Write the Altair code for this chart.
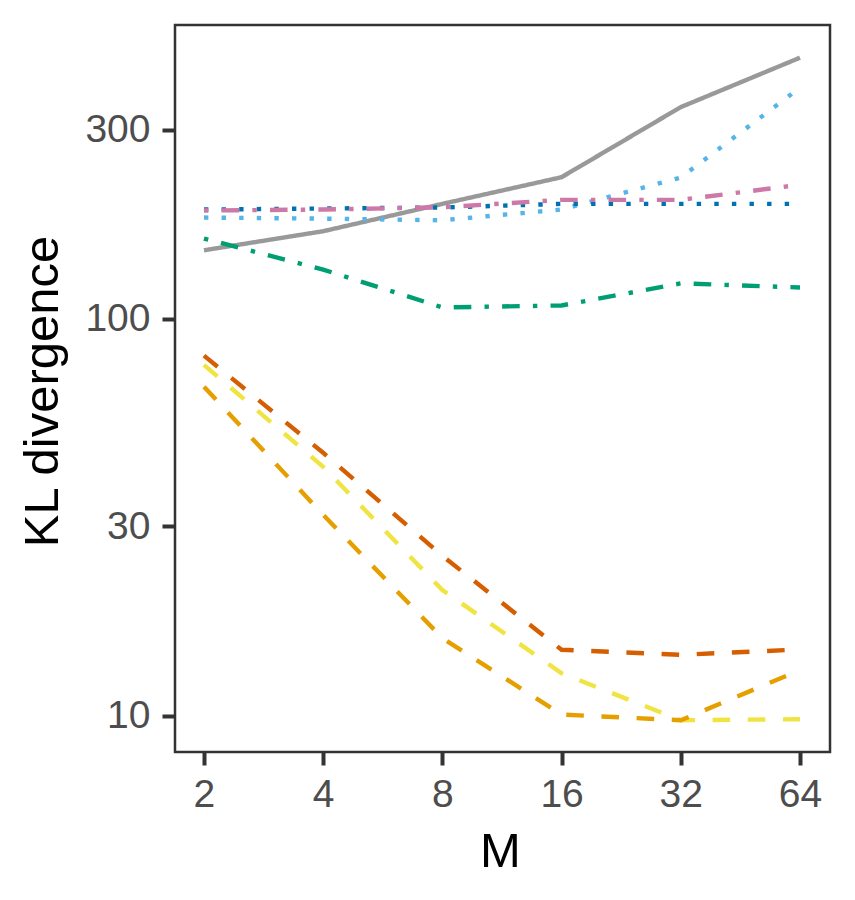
import altair as alt
import pandas as pd

M = [2, 4, 8, 16, 32, 64]

series_names = ["gray", "skyblue", "blue", "pink", "green", "vermillion", "yellow", "orange"]
series_colors = ["#999999", "#56B4E9", "#0072B2", "#CC79A7", "#009E73", "#D55E00", "#F0E442", "#E69F00"]
series_dashes = [[1, 0], [4.4, 13.2], [4.4, 13.2], [4.4, 13.2, 17.6, 13.2], [4.4, 13.2, 17.6, 13.2],
                 [17.6, 17.6], [17.6, 17.6], [17.6, 17.6]]

kl_gray = [148.9, 166.3, 194.9, 227.5, 341.6, 455.0]
kl_skyblue = [180.0, 178.9, 177.2, 188.6, 227.1, 382.3]
kl_blue = [188.6, 189.7, 190.8, 194.9, 194.9, 194.9]
kl_pink = [187.5, 188.6, 191.1, 199.5, 199.5, 217.7]
kl_green = [159.4, 133.1, 106.9, 108.1, 122.9, 120.0]
kl_vermillion = [80.8, 46.0, 25.3, 14.67, 14.25, 14.7]
kl_yellow = [76.6, 42.4, 20.75, 12.81, 9.75, 9.81]
kl_orange = [67.5, 32.1, 15.7, 10.08, 9.75, 13.04]

all_series = [kl_gray, kl_skyblue, kl_blue, kl_pink, kl_green, kl_vermillion, kl_yellow, kl_orange]

rows = []
for name, vals in zip(series_names, all_series):
    for m, v in zip(M, vals):
        rows.append({"series": name, "M": m, "KL": v})
df = pd.DataFrame(rows)

chart = alt.Chart(df).mark_line(strokeWidth=4.4, clip=True).encode(
    x=alt.X("M:Q",
            scale=alt.Scale(type="log", base=2, domain=[1.69, 76.2], nice=False),
            axis=alt.Axis(values=M, format="d", title="M",
                          labelBaseline="alphabetic", labelPadding=41.5,
                          titleX=325, titleY=114, titleBaseline="alphabetic",
                          titleAlign="center")),
    y=alt.Y("KL:Q",
            scale=alt.Scale(type="log", domain=[8.11, 550], nice=False),
            axis=alt.Axis(values=[10, 30, 100, 300], format="d", title="KL divergence",
                          labelPadding=12,
                          titleX=-117.5, titleY=366, titleAngle=270,
                          titleBaseline="alphabetic", titleAlign="center")),
    color=alt.Color("series:N", scale=alt.Scale(domain=series_names, range=series_colors), legend=None),
    strokeDash=alt.StrokeDash("series:N", scale=alt.Scale(domain=series_names, range=series_dashes), legend=None),
).properties(
    width=655, height=727,
    autosize=alt.AutoSizeParams(type="none"),
    padding={"left": 167, "top": 17, "right": 10, "bottom": 130},
).configure_view(
    stroke="#333333", strokeWidth=2.5
).configure_axis(
    grid=False, domain=False,
    tickColor="#333333", tickWidth=4, tickSize=13,
    labelFont="Liberation Sans", labelFontSize=39, labelColor="#4D4D4D",
    titleFont="Liberation Sans", titleFontSize=49, titleColor="#000000", titleFontWeight="normal",
)

chart.save("out.html", embed_options={"renderer": "svg", "actions": False})
